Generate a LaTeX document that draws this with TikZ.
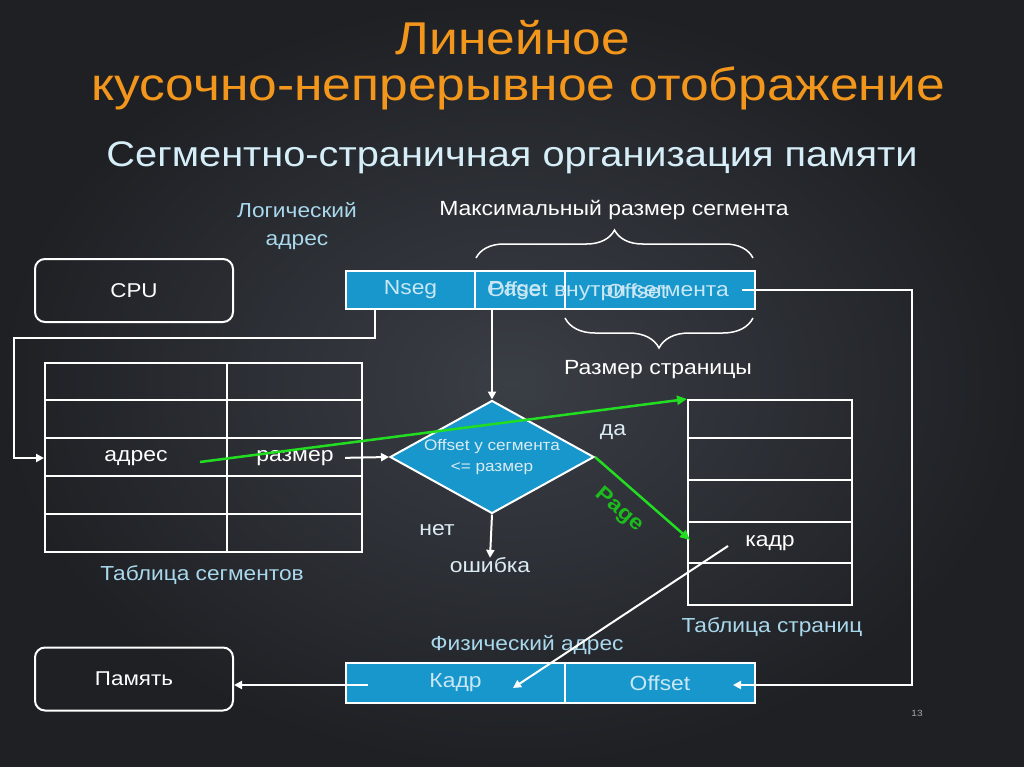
\documentclass[tikz,border=0pt]{standalone}
\usepackage{fontspec}
\setmainfont{Liberation Sans}[FakeStretch=1.12]
\usetikzlibrary{arrows.meta,decorations.pathreplacing,shapes.geometric}
\definecolor{bgin}{HTML}{3A3E45}
\definecolor{bgout}{HTML}{1E2024}
\definecolor{cellblue}{HTML}{1797CC}
\definecolor{celltext}{HTML}{C9E7F5}
\definecolor{titleor}{HTML}{F3961C}
\definecolor{subtl}{HTML}{D6EEF8}
\definecolor{lightb}{HTML}{A9D8EC}
\definecolor{pale}{HTML}{DCEBF2}
\definecolor{greenl}{HTML}{22DD22}
\begin{document}
\begin{tikzpicture}[x=1pt,y=-1pt,
  roundbox/.style={draw=white, line width=2pt, rounded corners=10pt, minimum width=198pt, minimum height=63pt, text=white, font=\fontsize{20}{24}\selectfont},
  cell/.style={draw=white, line width=1.5pt, fill=cellblue, minimum height=38pt, inner sep=0pt, text=celltext, font=\fontsize{20.4}{22}\selectfont},
  celltxt/.style={text=celltext, font=\fontsize{20.4}{22}\selectfont},
  wire/.style={draw=white, line width=2pt},
  arr/.style={wire, -{Triangle[length=8pt,width=8pt]}},
  garr/.style={draw=greenl, line width=2.5pt, -{Triangle[length=10pt,width=9pt]}},
  lbl/.style={text=lightb, font=\fontsize{20.3}{28}\selectfont, align=center},
  wlbl/.style={text=white, font=\fontsize{20.5}{24}\selectfont},
  plbl/.style={text=pale, font=\fontsize{20.5}{24}\selectfont},
  tbl/.style={draw=white, line width=2pt, inner sep=0pt},
  tline/.style={draw=white, line width=1.5pt},
  brc/.style={draw=white, line width=1.5pt, decorate}
]
\useasboundingbox (0,0) rectangle (1024,767);
\shade[inner color=bgin, outer color=bgout] (0,0) rectangle (1024,767);

% titles
\node[text=titleor, font=\fontsize{46}{50}\selectfont] (t1) at (513,38) {Линейное};
\node[text=titleor, font=\fontsize{46}{50}\selectfont] (t2) at (518,88) {кусочно-непрерывное отображение};
\node[text=subtl, font=\fontsize{35.5}{40}\selectfont] (sub) at (512,158) {Сегментно-страничная организация памяти};

% labels top
\node[lbl] (logl) at (297,226) {Логический\\адрес};
\node[wlbl] (maxl) at (614,210) {Максимальный размер сегмента};

% CPU and memory
\node[roundbox] (cpu) at (134,290.5) {CPU};
\node[roundbox] (mem) at (134,679) {Память};

% logical address bar
\node[cell, minimum width=129pt] (nseg) at (410.5,290) {Nseg};
\node[cell, minimum width=90pt] (pagec) at (520,290) {};
\node[cell, minimum width=190pt] (offc) at (660,290) {};
\node[celltxt] (offtxt) at (608,291) {Offset внутри сегмента};
\node[celltxt] (pagetxt) at (515,291) {Page};
\node[celltxt] (offtxt2) at (637,291) {Offset};

% braces
\draw[brc, decoration={brace, amplitude=28pt}] (476,258) -- (753,258);
\draw[brc, decoration={brace, amplitude=30pt}] (753,318) -- (565,318);
\node[wlbl] (rpage) at (658,370) {Размер страницы};

% segment table
\node[tbl, minimum width=317pt, minimum height=189pt] (segtab) at (203.5,457.5) {};
\foreach \yy in {400,438,476,514} \draw[tline] (45,\yy) -- (362,\yy);
\draw[tline] (227,363) -- (227,552);
\node[wlbl] (adr) at (136,458) {адрес};
\node[wlbl] (razm) at (295,458) {размер};
\node[lbl] (segcap) at (202,575) {Таблица сегментов};

% nseg -> table
\coordinate (n1) at (375,309);
\coordinate (n2) at (375,338);
\coordinate (n3) at (14,338);
\coordinate (n4) at (14,458);
\draw[arr] (n1) -- (n2) -- (n3) -- (n4) -- (segtab.west |- n4);

% diamond
\node[diamond, draw=white, line width=2pt, fill=cellblue, aspect=1.8, inner sep=0pt, minimum width=204pt, minimum height=113pt, align=center, text=pale, font=\fontsize{15.3}{21}\selectfont] (dia) at (492,457) {Offset у сегмента\\<= размер};
\draw[arr, shorten <=8pt] (razm.east) -- (dia.west);
\draw[arr] (dia.north |- pagec.south) -- (dia.north);
\node[plbl] (err) at (490,565) {ошибка};
\draw[arr] (dia.south) -- ([yshift=-4pt]err.north);
\node[plbl] (net) at (437,530) {нет};
\node[plbl] (da) at (613,432) {да};

% page table
\node[tbl, minimum width=164pt, minimum height=205pt] (ptab) at (770,502.5) {};
\foreach \yy in {438,480,522,563} \draw[tline] (688,\yy) -- (852,\yy);
\node[wlbl] (kadr) at (770,543) {кадр};
\node[lbl] (ptcap) at (772,627) {Таблица страниц};

% green arrows
\coordinate (gstart) at (200,462);
\draw[garr] (gstart) -- (ptab.north west);
\coordinate (gend) at (690,540);
\draw[garr] (dia.east) -- node[pos=0.42, sloped, below=10pt, text=greenl!85!black, font=\bfseries\fontsize{21}{24}\selectfont] {Page} (gend);

% physical address bar
\node[lbl] (phl) at (527,645) {Физический адрес};
\node[cell, minimum width=219pt, minimum height=40pt] (pkadr) at (455.5,683) {Кадр};
\node[cell, minimum width=190pt, minimum height=40pt] (pofs) at (660,683) {Offset};

% kadr pointer
\coordinate (kstart) at (728,546);
\coordinate (kend) at (513,688);
\draw[arr] (kstart) -- (kend);

% offset loop
\coordinate (o1) at (742,290);
\coordinate (o2) at (912,290);
\coordinate (o3) at (912,685);
\coordinate (o4) at (733,685);
\draw[arr] (o1) -- (o2) -- (o3) -- (o4);

% physical -> memory
\coordinate (m1) at (368,685);
\draw[arr] (m1) -- (mem.east |- m1);

\node[text=gray!70, font=\fontsize{9}{10}\selectfont] (pn) at (917,713) {13};
\end{tikzpicture}
\end{document}
